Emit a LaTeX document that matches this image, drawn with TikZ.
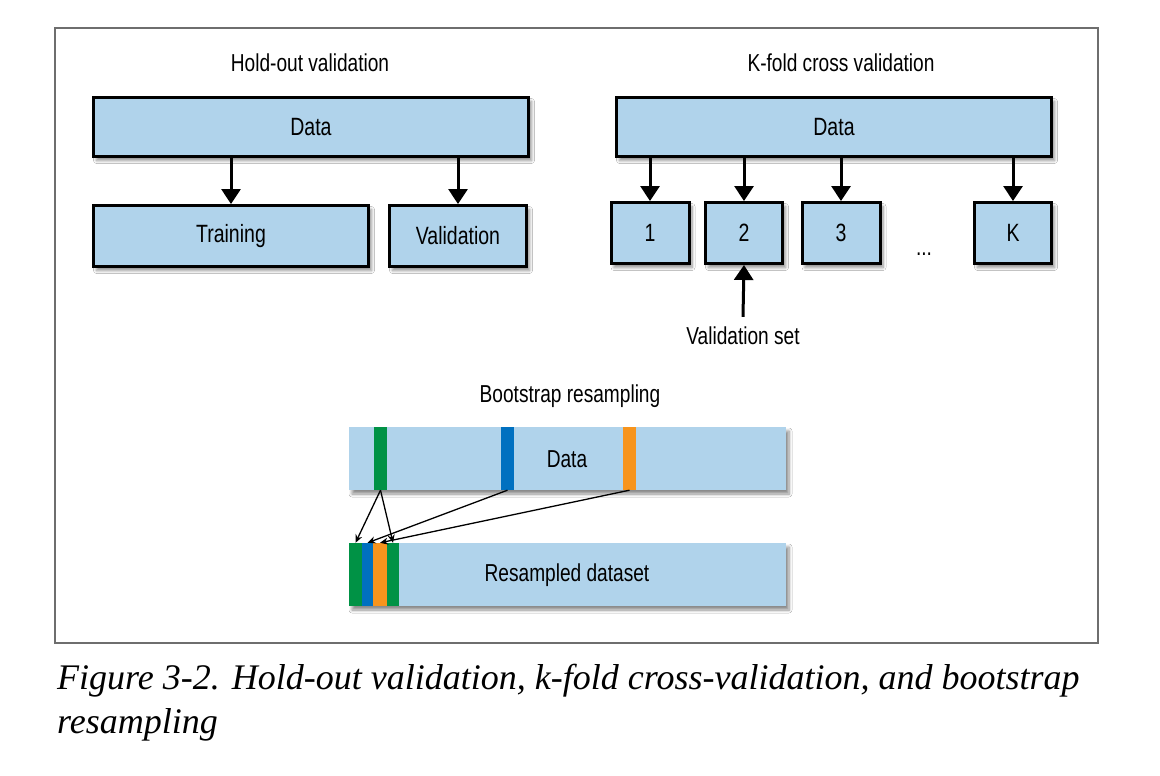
\documentclass[tikz,border=0pt]{standalone}
\usepackage{fontspec}
\usetikzlibrary{arrows.meta,shadows,shadows.blur}
\newfontfamily\diagfont[FakeStretch=0.78]{Liberation Sans}
\newfontfamily\capfont{Liberation Serif}
\definecolor{boxblue}{RGB}{176,211,235}
\definecolor{sgreen}{RGB}{0,146,69}
\definecolor{sblue}{RGB}{0,112,192}
\definecolor{sorange}{RGB}{247,148,29}
\definecolor{framegray}{RGB}{110,110,110}
\tikzset{
  shad/.style={blur shadow={shadow xshift=3pt, shadow yshift=-4pt, shadow blur steps=6, shadow blur radius=3pt, shadow opacity=45}},
  bluebox/.style={draw=black, line width=3pt, fill=boxblue, shad, inner sep=0pt,
    font=\diagfont\fontsize{25}{29}\selectfont},
  barbox/.style={fill=boxblue, draw=none, shad, inner sep=0pt,
    font=\diagfont\fontsize{25}{29}\selectfont},
  stripe/.style={draw=none, inner sep=0pt, minimum height=63pt},
  title/.style={font=\diagfont\fontsize{24.5}{28}\selectfont, inner sep=0pt},
  bigarrow/.style={line width=3pt, -{Triangle[width=19pt,length=15pt]}},
  thinarrow/.style={line width=1.3pt, -{Stealth[width=7pt,length=8pt]}},
}
\begin{document}
\begin{tikzpicture}[x=1pt,y=-1pt]
\useasboundingbox (0,0) rectangle (1160,776);
\fill[white] (0,0) rectangle (1160,776);
\draw[framegray, line width=1.3pt] (55,28) rectangle (1098,643);

% Hold-out validation
\node[title] (t1) at (310,63) {Hold-out validation};
\node[bluebox, minimum width=435pt, minimum height=59pt] (hdata) at (311,127) {Data};
\node[bluebox, minimum width=275pt, minimum height=61pt] (train) at (231,236) {Training};
\node[bluebox, minimum width=137pt, minimum height=61pt] (valid) at (458,236) {Validation};
\draw[bigarrow] (hdata.south -| train.north) -- (train.north);
\draw[bigarrow] (hdata.south -| valid.north) -- (valid.north);

% K-fold cross validation
\node[title] (t2) at (841,63) {K-fold cross validation};
\node[bluebox, minimum width=435pt, minimum height=59pt] (kdata) at (834,127) {Data};
\node[bluebox, minimum width=78pt, minimum height=61pt] (k1) at (650,233) {1};
\node[bluebox, minimum width=77pt, minimum height=61pt] (k2) at (744,233) {2};
\node[bluebox, minimum width=78pt, minimum height=61pt] (k3) at (841,233) {3};
\node[bluebox, minimum width=77pt, minimum height=61pt] (kk) at (1013,233) {K};
\node[title] (dots) at (924,254) {...};
\draw[bigarrow] (kdata.south -| k1.north) -- (k1.north);
\draw[bigarrow] (kdata.south -| k2.north) -- (k2.north);
\draw[bigarrow] (kdata.south -| k3.north) -- (k3.north);
\draw[bigarrow] (kdata.south -| kk.north) -- (kk.north);
\node[title] (vset) at (743,336) {Validation set};
\draw[bigarrow] ([yshift=10pt]vset.north) -- (k2.south);

% Bootstrap resampling
\node[title] (t3) at (570,396) {Bootstrap resampling};
\node[barbox, minimum width=437pt, minimum height=63pt] (bdata) at (567.5,458.5) {};
\node[stripe, fill=sgreen, minimum width=13pt] (sg) at (380.5,458.5) {};
\node[stripe, fill=sblue, minimum width=13pt] (sb) at (507.5,458.5) {};
\node[stripe, fill=sorange, minimum width=13pt] (so) at (629.5,458.5) {};
\node[title] (bdtext) at (567,459) {Data};

\node[barbox, minimum width=437pt, minimum height=63pt] (bres) at (567.5,574.5) {};
\node[stripe, fill=sgreen, minimum width=13pt] (rg1) at (355.5,574.5) {};
\node[stripe, fill=sblue, minimum width=11pt] (rb) at (367.5,574.5) {};
\node[stripe, fill=sorange, minimum width=14pt] (ro) at (380,574.5) {};
\node[stripe, fill=sgreen, minimum width=12pt] (rg2) at (393,574.5) {};
\node[title] (rtext) at (567,575) {Resampled dataset};

\draw[thinarrow] (sg.south) -- (rg1.north);
\draw[thinarrow] (sg.south) -- (rg2.north);
\draw[thinarrow] (sb.south) -- (rb.north);
\draw[thinarrow] (so.south) -- (ro.north);

% Caption
\node[anchor=base west, inner sep=0pt, font=\capfont\itshape\fontsize{36}{42}\selectfont] (cap1) at (57,689)
  {Figure 3-2. Hold-out validation, k-fold cross-validation, and bootstrap};
\node[anchor=base west, inner sep=0pt, font=\capfont\itshape\fontsize{36}{42}\selectfont] (cap2) at (57,733)
  {resampling};
\end{tikzpicture}
\end{document}
